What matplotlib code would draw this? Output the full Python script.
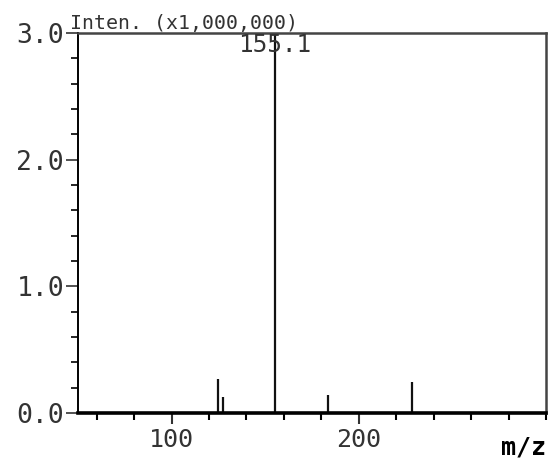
import matplotlib
matplotlib.use('Agg')
import matplotlib.pyplot as plt
from matplotlib.ticker import MultipleLocator

plt.rcParams['font.family'] = ['DejaVu Sans Mono', 'DejaVu Sans']

# peaks (intensity in units of 1,000,000)
mz = [125.0, 127.6, 155.1, 183.3, 228.5]
inten = [0.27, 0.13, 3.0, 0.14, 0.245]
base_peak = 155.1

x_ticks = [100, 200]
x_tick_labels = ['100', '200']
y_ticks = [0, 1, 2, 3]
y_tick_labels = ['0.0', '1.0', '2.0', '3.0']

fig = plt.figure(figsize=(5.55, 4.61), dpi=100)
ax = fig.add_axes([0.1405, 0.1041, 0.8433, 0.8243])

ax.vlines(mz, 0, inten, color='#111111', linewidth=1.6)
ax.text(base_peak, 3.0, '155.1', ha='center', va='top', fontsize=17.5,
        color='#333333', transform=ax.transData)

ax.set_xlim(50, 300)
ax.set_ylim(0, 3.0)

ax.set_xticks(x_ticks)
ax.set_xticklabels(x_tick_labels)
ax.set_yticks(y_ticks)
ax.set_yticklabels(y_tick_labels)
ax.xaxis.set_minor_locator(MultipleLocator(20))
ax.yaxis.set_minor_locator(MultipleLocator(0.2))

ax.tick_params(axis='x', which='major', direction='out', length=8, width=1.5,
               labelsize=18, pad=3, colors='#333333')
ax.tick_params(axis='x', which='minor', direction='out', length=5, width=1.5)
ax.tick_params(axis='y', which='major', direction='out', length=9, width=1.2,
               labelsize=19, pad=1, colors='#333333')
ax.tick_params(axis='y', which='minor', direction='out', length=5, width=1.2)

ax.spines['bottom'].set_linewidth(2.6)
ax.spines['left'].set_linewidth(1.4)
ax.spines['top'].set_linewidth(1.8)
ax.spines['top'].set_color('#444444')
ax.spines['right'].set_linewidth(1.8)
ax.spines['right'].set_color('#444444')

ax.text(-0.017, 1.0, 'Inten. (x1,000,000)', transform=ax.transAxes,
        ha='left', va='bottom', fontsize=14.3, color='#333333')
ax.annotate('m/z', xy=(1.0, 0.0), xycoords='axes fraction',
            xytext=(0, -22), textcoords='offset pixels',
            ha='right', va='top', fontsize=18, fontweight='bold')

fig.savefig('out.png', dpi=100)
